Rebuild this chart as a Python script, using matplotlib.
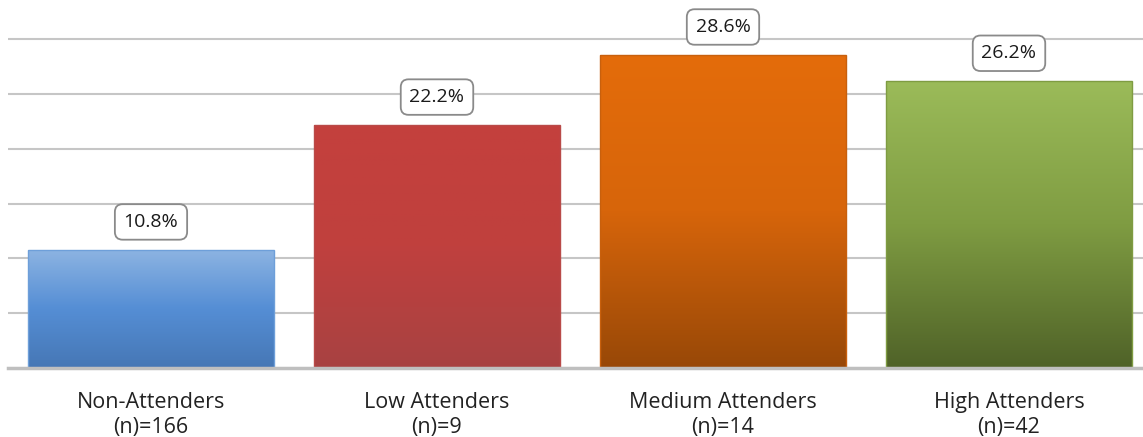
"""
Attendance groups: share of respondents, bar chart with gradient fills.
"""

import numpy as np
import matplotlib
matplotlib.use("Agg")
import matplotlib.pyplot as plt
from matplotlib.colors import LinearSegmentedColormap


categories = ["Non-Attenders", "Low Attenders", "Medium Attenders", "High Attenders"]
group_sizes = [166, 9, 14, 42]
percentages = [10.8, 22.2, 28.6, 26.2]

# top, middle, bottom colour of each bar's gradient
bar_gradients = [
    ["#8db4e2", "#558ed5", "#4677b5"],
    ["#c4403d", "#c0403e", "#a84242"],
    ["#e46c0a", "#d7650b", "#984807"],
    ["#9bbb59", "#7f9c42", "#4f6228"],
]
bar_edges = ["#6e9fd9", "#b94a48", "#c8600d", "#7f9c42"]

plt.rcParams["font.family"] = ["Open Sans", "DejaVu Sans"]

fig = plt.figure(figsize=(11.43, 4.37), dpi=100)
ax = fig.add_axes([8 / 1143, 69 / 437, 1135 / 1143, 368 / 437])

x = np.arange(len(categories))
bar_width = 0.857

bars = ax.bar(
    x,
    percentages,
    width=bar_width,
    color="none",
    zorder=3
)

# paint each bar with a vertical gradient clipped to the bar
for bar, colours, edge in zip(bars, bar_gradients, bar_edges):

    cmap = LinearSegmentedColormap.from_list("grad", colours[::-1])
    grad = np.linspace(0, 1, 256).reshape(-1, 1)

    x0 = bar.get_x()
    x1 = x0 + bar.get_width()
    h = bar.get_height()

    img = ax.imshow(
        grad,
        cmap=cmap,
        extent=[x0, x1, 0, h],
        origin="lower",
        aspect="auto",
        zorder=2
    )
    img.set_clip_path(bar)

    bar.set_edgecolor(edge)
    bar.set_linewidth(1.0)

# imshow changes the limits, so set them afterwards
ax.set_xlim(-0.5, -0.5 + 1135 / 286)
ax.set_ylim(0, 33.6)

# gridlines
ax.set_yticks(np.arange(5, 31, 5))
ax.yaxis.grid(True, color="#c6c6c6", linewidth=1.5, zorder=0)
ax.set_axisbelow(True)
ax.tick_params(axis="y", left=False, labelleft=False)

# value labels in rounded boxes
for xi, val in zip(x, percentages):

    ax.annotate(
        f"{val:.1f}%",
        xy=(xi, val),
        xytext=(0, 20),
        textcoords="offset points",
        ha="center",
        va="center",
        fontsize=14,
        color="#1a1a1a",
        zorder=5,
        bbox=dict(
            boxstyle="round,pad=0.45,rounding_size=0.4",
            facecolor="white",
            edgecolor="#8a8a8a",
            linewidth=1.3
        )
    )

# category labels
ax.set_xticks(x)
ax.set_xticklabels(
    [f"{c}\n(n)={n}" for c, n in zip(categories, group_sizes)],
    fontsize=15.5,
    color="#222222",
    linespacing=1.25
)
ax.tick_params(axis="x", length=0, pad=17)

for side in ["top", "right", "left"]:
    ax.spines[side].set_visible(False)

ax.spines["bottom"].set_color("#bfbfbf")
ax.spines["bottom"].set_linewidth(2.5)
ax.spines["bottom"].set_zorder(4)

fig.savefig("out.png", dpi=100)
